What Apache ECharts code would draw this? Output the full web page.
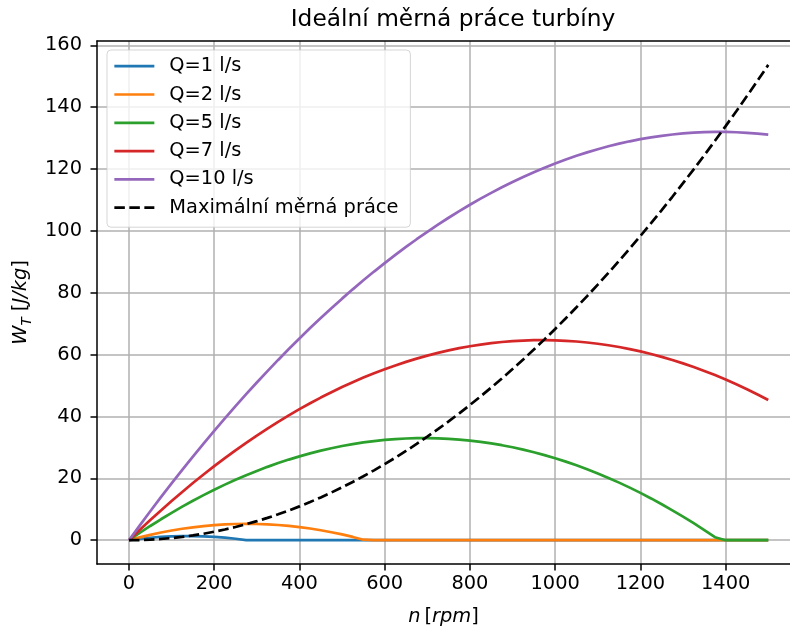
<!DOCTYPE html>
<html><head><meta charset="utf-8">
<script src="https://cdn.jsdelivr.net/npm/echarts@6/dist/echarts.min.js"></script>
<style>html,body{margin:0;padding:0;background:#fff}#c{width:790px;height:632px}</style>
</head><body><div id="c"></div>
<script>
// n [rpm]
const rpm = [0,25,50,75,100,125,150,175,200,225,250,275,300,325,350,375,400,425,450,475,
  500,525,550,575,600,625,650,675,700,725,750,775,800,825,850,875,900,925,950,975,
  1000,1025,1050,1075,1100,1125,1150,1175,1200,1225,1250,1275,1300,1325,1350,1375,1400,1425,1450,1475,1500];
const q1 = [0,0.43,0.78,1.04,1.22,1.31,1.31,1.23,1.06,0.81,0.47,0.04,0,0,0,0,0,0,0,0,
  0,0,0,0,0,0,0,0,0,0,0,0,0,0,0,0,0,0,0,0,
  0,0,0,0,0,0,0,0,0,0,0,0,0,0,0,0,0,0,0,0,0];
const q2 = [0,0.91,1.73,2.47,3.12,3.69,4.17,4.56,4.87,5.09,5.23,5.28,5.24,5.12,4.91,4.62,4.24,3.77,3.22,2.58,
  1.86,1.05,0.15,0,0,0,0,0,0,0,0,0,0,0,0,0,0,0,0,0,
  0,0,0,0,0,0,0,0,0,0,0,0,0,0,0,0,0,0,0,0,0];
const q5 = [0,2.34,4.59,6.76,8.84,10.84,12.75,14.57,16.31,17.96,19.53,21.00,22.40,23.71,24.93,26.06,27.11,28.08,28.95,29.74,
  30.45,31.07,31.60,32.05,32.41,32.69,32.88,32.98,33.00,32.93,32.78,32.53,32.21,31.80,31.30,30.71,30.04,29.29,28.44,27.51,
  26.50,25.40,24.21,22.94,21.58,20.14,18.61,16.99,15.29,13.50,11.63,9.66,7.62,5.49,3.27,0.96,0,0,0,0,0];
const q7 = [0,3.29,6.50,9.62,12.65,15.60,18.47,21.24,23.93,26.54,29.06,31.49,33.83,36.09,38.27,40.36,42.36,44.28,46.11,47.85,
  49.51,51.08,52.57,53.97,55.28,56.51,57.66,58.71,59.68,60.57,61.37,62.08,62.70,63.24,63.70,64.07,64.35,64.55,64.66,64.68,
  64.62,64.47,64.24,63.92,63.51,63.02,62.45,61.78,61.03,60.20,59.28,58.27,57.17,55.99,54.73,53.38,51.94,50.42,48.81,47.11,45.33];
const q10 = [0,4.72,9.36,13.91,18.37,22.75,27.04,31.25,35.37,39.40,43.35,47.21,50.99,54.68,58.28,61.80,65.23,68.58,71.84,75.01,
  78.10,81.10,84.02,86.85,89.59,92.25,94.82,97.31,99.71,102.02,104.25,106.39,108.45,110.42,112.30,114.10,115.81,117.44,118.98,120.43,
  121.80,123.08,124.28,125.39,126.41,127.35,128.20,128.97,129.65,130.24,130.75,131.17,131.51,131.76,131.92,132.00,131.99,131.90,131.72,131.45,131.10];
const wmax = [0,0.04,0.17,0.38,0.68,1.07,1.54,2.09,2.73,3.46,4.27,5.17,6.15,7.21,8.37,9.60,10.93,12.34,13.83,15.41,
  17.08,18.83,20.66,22.58,24.59,26.68,28.86,31.12,33.47,35.90,38.42,41.02,43.71,46.49,49.35,52.29,55.32,58.44,61.64,64.93,
  68.30,71.76,75.30,78.93,82.64,86.44,90.33,94.30,98.35,102.49,106.72,111.03,115.43,119.91,124.48,129.13,133.87,138.69,143.60,148.59,153.68];
const seriesNames = ['Q=1 l/s','Q=2 l/s','Q=5 l/s','Q=7 l/s','Q=10 l/s','Maximální měrná práce'];
const xTicks = [0,200,400,600,800,1000,1200,1400];
const yTicks = [0,20,40,60,80,100,120,140,160];
const titleText = 'Ideální měrná práce turbíny';

const colors = ['#1f77b4','#ff7f0e','#2ca02c','#d62728','#9467bd','#000000'];
const values = [q1,q2,q5,q7,q10,wmax];
const FONT = 'DejaVu Sans';
const FS = 19.4;
const XMIN = -75, XMAX = 1551;

const chart = echarts.init(document.getElementById('c'), null, {renderer:'canvas'});
const series = values.map((ys, k) => ({
  type: 'line',
  name: seriesNames[k],
  xAxisIndex: 0, yAxisIndex: 0,
  data: rpm.map((n, i) => [n, ys[i]]),
  symbol: 'none',
  showSymbol: false,
  animation: false,
  color: colors[k],
  lineStyle: {color: colors[k], width: 2.7, type: k === 5 ? [10.5, 4.5] : 'solid', cap: 'butt'},
  itemStyle: {color: colors[k]},
  z: 2 + k
}));

chart.setOption({
  animation: false,
  backgroundColor: '#ffffff',
  title: {
    text: titleText, left: 448, top: 3, textAlign: 'center',
    textStyle: {fontFamily: FONT, fontSize: 23.3, fontWeight: 'normal', color: '#000'}
  },
  grid: {left: 97, top: 41, width: 693, height: 523, show: false},
  legend: {
    orient: 'vertical', left: 107, top: 50,
    data: seriesNames,
    itemWidth: 40, itemHeight: 20, itemGap: 9.3,
    padding: [6.7, 12, 10, 6],
    backgroundColor: 'rgba(255,255,255,0.8)',
    borderColor: 'rgba(204,204,204,0.8)', borderWidth: 1, borderRadius: 4,
    textStyle: {fontFamily: FONT, fontSize: FS, color: '#000', padding: [0, 0, 0, 10]},
    itemStyle: {opacity: 0},
    lineStyle: {width: 2.7},
    z: 20
  },
  xAxis: [{
    type: 'value', min: XMIN, max: XMAX, position: 'bottom',
    name: '{i|n}{r|\u2009[}{i|rpm}{r|]}', nameLocation: 'middle', nameGap: 43,
    nameTextStyle: {rich: {
      i: {fontFamily: FONT, fontSize: FS, fontStyle: 'italic', color: '#000'},
      r: {fontFamily: FONT, fontSize: FS, color: '#000'}
    }},
    axisLine: {show: true, onZero: false, lineStyle: {color: '#000', width: 1.5}},
    axisTick: {show: true, length: 6.5, lineStyle: {color: '#000', width: 1.5}, customValues: xTicks},
    axisLabel: {customValues: xTicks, fontFamily: FONT, fontSize: FS, color: '#000', margin: 10,
      formatter: v => String(v)},
    splitLine: {show: true, lineStyle: {color: '#b0b0b0', width: 1.5}},
    minorTick: {show: false}
  }, {
    type: 'value', min: XMIN, max: XMAX, position: 'top',
    axisLine: {show: true, onZero: false, lineStyle: {color: '#000', width: 1.5}},
    axisTick: {show: false}, axisLabel: {show: false}, splitLine: {show: false}
  }],
  yAxis: {
    type: 'value', min: -7.7, max: 161.4,
    name: '{i|W}{s|T}{r| [}{i|J/kg}{r|]}', nameLocation: 'middle', nameGap: 62, nameRotate: 90,
    nameTextStyle: {rich: {
      i: {fontFamily: FONT, fontSize: FS, fontStyle: 'italic', color: '#000', verticalAlign: 'bottom'},
      s: {fontFamily: FONT, fontSize: 13.5, fontStyle: 'italic', color: '#000', verticalAlign: 'bottom', padding: [0,0,-4,0]},
      r: {fontFamily: FONT, fontSize: FS, color: '#000', verticalAlign: 'bottom'}
    }},
    axisLine: {show: true, onZero: false, lineStyle: {color: '#000', width: 1.5}},
    axisTick: {show: true, length: 6.5, lineStyle: {color: '#000', width: 1.5}, customValues: yTicks},
    axisLabel: {customValues: yTicks, fontFamily: FONT, fontSize: FS, color: '#000', margin: 15},
    splitLine: {show: true, lineStyle: {color: '#b0b0b0', width: 1.5}},
    minorTick: {show: false}
  },
  series: series
});
</script>
</body></html>
